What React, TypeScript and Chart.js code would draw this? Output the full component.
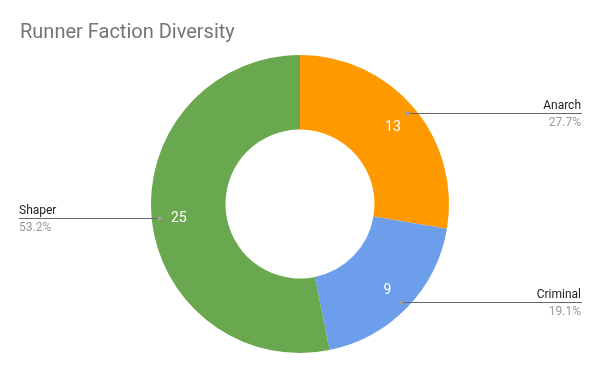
import React, { useEffect, useRef } from 'react';
import { Chart, registerables } from 'chart.js';

Chart.register(...registerables);

const TITLE = 'Runner Faction Diversity';
const factions = ['Anarch', 'Criminal', 'Shaper'];
const counts = [13, 9, 25];
const sliceColors = ['#FF9900', '#6D9EEB', '#6AA84F'];

const FONT = 'Roboto, "Liberation Sans", Arial, sans-serif';

const decorPlugin = {
  id: 'decor',
  afterDatasetsDraw(chart: any) {
    const ctx = chart.ctx as CanvasRenderingContext2D;
    const meta = chart.getDatasetMeta(0);
    const data = chart.data.datasets[0].data as number[];
    const labels = chart.data.labels as string[];
    const total = data.reduce((a, b) => a + b, 0);
    ctx.save();
    // title
    ctx.font = `20px ${FONT}`;
    ctx.fillStyle = '#757575';
    ctx.textAlign = 'left';
    ctx.textBaseline = 'alphabetic';
    ctx.fillText(TITLE, 20, 38);

    meta.data.forEach((arc: any, i: number) => {
      const p = arc.getProps(['x', 'y', 'startAngle', 'endAngle', 'innerRadius', 'outerRadius'], true);
      const mid = (p.startAngle + p.endAngle) / 2;
      const c = Math.cos(mid);
      const s = Math.sin(mid);
      // value inside slice
      const vr = (p.innerRadius + p.outerRadius) / 2 + 10;
      ctx.fillStyle = '#ffffff';
      ctx.font = `14px ${FONT}`;
      ctx.textAlign = 'center';
      ctx.textBaseline = 'middle';
      ctx.fillText(String(data[i]), p.x + c * vr, p.y + s * vr + 2);

      // leader line
      const dr = p.outerRadius - 8;
      const dx = p.x + c * dr;
      const dy = Math.round(p.y + s * dr) + 0.5;
      const right = c >= 0;
      const end = right ? chart.width - 18 : 19;
      ctx.strokeStyle = '#666666';
      ctx.lineWidth = 1;
      ctx.beginPath();
      ctx.moveTo(dx, dy);
      ctx.lineTo(end, dy);
      ctx.stroke();
      ctx.fillStyle = '#9e9e9e';
      ctx.beginPath();
      ctx.arc(dx, dy, 2, 0, Math.PI * 2);
      ctx.fill();

      // labels
      const tx = right ? chart.width - 19 : 19;
      ctx.textAlign = right ? 'right' : 'left';
      ctx.textBaseline = 'alphabetic';
      ctx.font = `12px ${FONT}`;
      ctx.fillStyle = '#222222';
      ctx.fillText(labels[i], tx, dy - 5);
      ctx.fillStyle = '#999999';
      const pct = ((data[i] / total) * 100).toFixed(1) + '%';
      ctx.fillText(pct, tx, dy + 12);
    });
    ctx.restore();
  },
};

export default function App() {
  const ref = useRef<HTMLCanvasElement | null>(null);
  useEffect(() => {
    if (!ref.current) return;
    const chart = new Chart(ref.current, {
      type: 'doughnut',
      data: {
        labels: factions,
        datasets: [
          {
            data: counts,
            backgroundColor: sliceColors,
            borderWidth: 0,
            hoverOffset: 0,
          },
        ],
      },
      options: {
        responsive: false,
        animation: false,
        cutout: '50%',
        layout: { padding: { top: 55, bottom: 18, left: 0, right: 0 } },
        plugins: {
          legend: { display: false },
          title: { display: false },
          tooltip: { enabled: false },
        },
      },
      plugins: [decorPlugin],
    });
    return () => chart.destroy();
  }, []);
  return (
    <div style={{ position: 'absolute', left: 0, top: 0, width: 600, height: 371, background: '#fff' }}>
      <canvas ref={ref} width={600} height={371} style={{ display: 'block' }} />
    </div>
  );
}
